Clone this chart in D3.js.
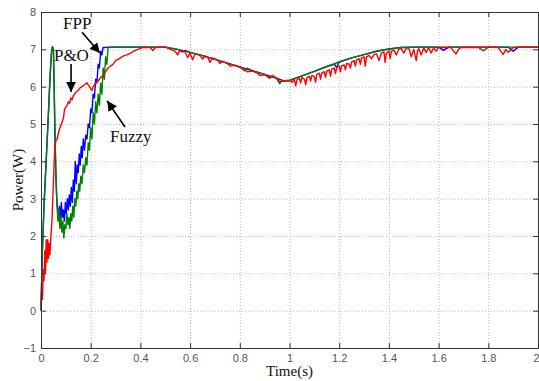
<!DOCTYPE html>
<html>
<head>
<meta charset="utf-8">
<script src="https://cdn.jsdelivr.net/npm/d3@7"></script>
<style>
  body { margin: 0; background: #fff; }
  .grid line { stroke: #b8b8b8; stroke-dasharray: 1,2; }
  .grid path { stroke: none; }
  .tick text { font-family: "Liberation Sans", Arial, sans-serif; font-size: 11px; fill: #555; }
</style>
</head>
<body>
<script>
// tick values
var xTicks = [0, 0.2, 0.4, 0.6, 0.8, 1, 1.2, 1.4, 1.6, 1.8, 2];
var yTicks = [-1, 0, 1, 2, 3, 4, 5, 6, 7, 8];

// FPP (blue) : [time, power]
var fpp = [
  [0,0],[0.005,1.5],[0.012,2.8],[0.02,3.9],[0.028,5.0],[0.036,6.2],[0.042,6.9],[0.046,7.06],
  [0.05,6.98],[0.053,6.0],[0.056,4.8],[0.06,3.6],[0.064,2.9],[0.068,2.6],[0.07,2.5],[0.074,2.8],
  [0.078,2.4],[0.082,2.9],[0.086,2.5],[0.09,2.7],[0.094,2.4],[0.098,2.9],[0.102,2.6],[0.106,3.0],
  [0.11,2.7],[0.114,3.1],[0.118,2.8],[0.122,3.3],[0.126,2.9],[0.13,3.5],[0.134,3.2],[0.138,4.0],
  [0.142,3.4],[0.146,3.9],[0.15,3.7],[0.154,4.2],[0.158,3.9],[0.162,4.4],[0.166,4.1],[0.17,4.6],
  [0.175,4.3],[0.18,4.7],[0.185,4.6],[0.19,5.0],[0.195,4.9],[0.2,5.4],[0.205,5.3],[0.21,5.8],
  [0.215,5.7],[0.22,6.2],[0.225,6.1],[0.23,6.6],[0.235,6.5],[0.24,6.95],[0.245,6.85],[0.25,7.05],
  [0.3,7.06],[0.4,7.06],[0.5,7.06],[0.55,7.0],[0.57,6.93],[0.58,6.97],[0.6,6.92],[0.65,6.83],
  [0.7,6.73],[0.75,6.63],[0.8,6.53],[0.85,6.43],[0.9,6.33],[0.95,6.22],[0.98,6.15],[1.0,6.17],
  [1.05,6.29],[1.1,6.41],[1.15,6.54],[1.18,6.6],[1.19,6.52],[1.2,6.66],[1.25,6.77],[1.3,6.86],
  [1.35,6.95],[1.4,7.01],[1.45,7.05],[1.5,7.06],[1.6,7.06],[1.62,6.97],[1.64,7.06],[1.88,7.06],
  [1.9,6.95],[1.92,7.06],[2.0,7.06]
];

// Fuzzy (green)
var fuzzy = [
  [0,0],[0.005,1.5],[0.012,2.8],[0.02,3.9],[0.028,5.0],[0.036,6.2],[0.042,6.9],[0.046,7.08],
  [0.05,7.0],[0.053,6.0],[0.056,4.8],[0.06,3.6],[0.064,2.9],[0.068,2.4],[0.072,2.7],[0.076,2.2],
  [0.08,2.5],[0.084,2.1],[0.088,2.4],[0.092,1.95],[0.096,2.3],[0.1,2.2],[0.104,2.6],[0.108,2.3],
  [0.112,2.5],[0.116,2.2],[0.12,2.6],[0.124,2.4],[0.128,2.8],[0.132,2.5],[0.136,3.0],[0.14,2.8],
  [0.144,3.2],[0.148,3.0],[0.152,3.4],[0.156,3.2],[0.16,3.6],[0.165,3.4],[0.17,3.9],[0.175,3.7],
  [0.18,4.1],[0.185,3.9],[0.19,4.5],[0.195,4.3],[0.2,4.9],[0.205,4.6],[0.21,5.3],[0.215,5.0],
  [0.22,5.6],[0.225,5.3],[0.23,5.8],[0.235,5.5],[0.24,6.1],[0.245,5.8],[0.25,6.5],[0.255,6.2],
  [0.26,6.8],[0.265,6.6],[0.27,7.06],[0.3,7.06],[0.4,7.06],[0.5,7.06],[0.55,7.0],[0.6,6.92],
  [0.65,6.83],[0.7,6.73],[0.75,6.63],[0.8,6.53],[0.82,6.42],[0.83,6.5],[0.85,6.43],[0.9,6.33],
  [0.92,6.22],[0.93,6.28],[0.95,6.2],[0.96,6.08],[0.97,6.16],[1.0,6.17],[1.05,6.29],[1.1,6.41],
  [1.15,6.54],[1.2,6.66],[1.25,6.77],[1.3,6.86],[1.35,6.95],[1.4,7.01],[1.45,7.05],[1.5,7.06],
  [1.76,7.06],[1.78,6.96],[1.8,7.06],[2.0,7.06]
];

// P&O (red)
var pando = [
  [0,0.1],[0.003,0.6],[0.006,0.3],[0.009,1.1],[0.012,0.8],[0.015,1.6],[0.018,1.0],[0.021,1.9],
  [0.024,1.3],[0.027,1.9],[0.03,1.4],[0.033,1.8],[0.036,1.5],[0.04,2.0],[0.044,2.4],[0.048,3.1],
  [0.052,3.8],[0.056,4.4],[0.06,4.55],[0.065,4.6],[0.07,4.75],[0.076,4.9],[0.082,5.0],[0.09,5.15],
  [0.095,5.4],[0.1,5.45],[0.105,5.5],[0.11,5.6],[0.115,5.55],[0.12,5.7],[0.125,5.65],[0.13,5.75],
  [0.14,5.85],[0.15,5.9],[0.157,5.97],[0.165,6.0],[0.175,6.05],[0.185,6.1],[0.19,6.05],[0.195,6.0],
  [0.2,5.95],[0.205,5.9],[0.21,6.0],[0.22,6.1],[0.23,6.15],[0.24,6.25],[0.25,6.3],[0.26,6.4],
  [0.27,6.5],[0.28,6.55],[0.29,6.6],[0.3,6.7],[0.315,6.75],[0.33,6.82],[0.345,6.85],[0.36,6.9],
  [0.375,6.96],[0.39,7.0],[0.41,7.05],[0.44,7.05],[0.45,6.97],[0.46,7.05],[0.5,7.06],[0.52,7.0],
  [0.54,6.95],[0.55,6.85],[0.56,6.98],[0.58,6.93],[0.59,6.78],[0.6,6.9],[0.61,6.72],[0.62,6.88],
  [0.64,6.84],[0.65,6.74],[0.66,6.82],[0.67,6.8],[0.68,6.65],[0.69,6.77],[0.71,6.72],[0.72,6.62],
  [0.73,6.68],[0.75,6.62],[0.76,6.55],[0.78,6.57],[0.8,6.52],[0.82,6.47],[0.83,6.4],[0.85,6.42],
  [0.87,6.37],[0.88,6.3],[0.9,6.32],[0.92,6.25],[0.93,6.3],[0.95,6.22],[0.96,6.14],[0.98,6.15],
  [1.0,6.16],[1.01,6.12],[1.02,6.2],[1.025,6.02],[1.03,6.18],[1.04,6.22],[1.045,6.1],[1.05,6.25],
  [1.06,6.2],[1.065,6.05],[1.07,6.24],[1.08,6.28],[1.085,6.15],[1.09,6.3],[1.1,6.27],[1.105,6.12],
  [1.11,6.33],[1.12,6.36],[1.125,6.2],[1.13,6.37],[1.14,6.4],[1.145,6.25],[1.15,6.42],[1.16,6.45],
  [1.165,6.28],[1.17,6.47],[1.18,6.5],[1.185,6.35],[1.19,6.52],[1.2,6.55],[1.205,6.4],[1.21,6.56],
  [1.22,6.58],[1.225,6.45],[1.23,6.62],[1.24,6.6],[1.245,6.5],[1.25,6.66],[1.26,6.7],[1.265,6.55],
  [1.27,6.72],[1.28,6.75],[1.285,6.6],[1.29,6.77],[1.3,6.8],[1.305,6.55],[1.31,6.8],[1.32,6.84],
  [1.33,6.75],[1.34,6.86],[1.35,6.88],[1.36,6.7],[1.37,6.9],[1.38,6.93],[1.385,6.65],[1.39,6.9],
  [1.4,6.96],[1.405,6.75],[1.41,6.95],[1.42,6.98],[1.43,6.85],[1.44,7.0],[1.45,7.02],[1.46,6.9],
  [1.47,7.03],[1.48,7.04],[1.49,6.8],[1.5,7.0],[1.51,6.7],[1.515,6.95],[1.52,7.02],[1.53,6.85],
  [1.54,7.04],[1.55,6.92],[1.56,7.05],[1.57,6.9],[1.58,7.04],[1.59,6.95],[1.6,7.05],[1.65,7.05],
  [1.66,6.95],[1.67,6.88],[1.68,7.0],[1.69,7.05],[1.75,7.05],[1.8,7.06],[1.84,7.05],[1.85,6.95],
  [1.86,6.86],[1.87,7.0],[1.88,6.92],[1.9,7.05],[1.95,7.06],[2.0,7.06]
];

// annotations: text position and arrow tail -> head (data units)
var notes = [
  { label: "FPP",   tx: 0.089, ty: 7.54, x1: 0.165, y1: 7.46, x2: 0.237, y2: 6.9 },
  { label: "P&O",   tx: 0.052, ty: 6.69, x1: 0.121, y1: 6.61, x2: 0.121, y2: 5.86 },
  { label: "Fuzzy", tx: 0.278, ty: 4.52, x1: 0.338, y1: 4.92, x2: 0.266, y2: 5.62 }
];

var width = 539, height = 381;
var margin = { top: 12, right: 1, bottom: 33, left: 41 };
var w = width - margin.left - margin.right;
var h = height - margin.top - margin.bottom;

var svg = d3.select('body').append('svg')
    .attr('width', width)
    .attr('height', height);

svg.append('defs').append('marker')
    .attr('id', 'head')
    .attr('viewBox', '0 0 10 10')
    .attr('refX', 10).attr('refY', 5)
    .attr('markerWidth', 10).attr('markerHeight', 10)
    .attr('markerUnits', 'userSpaceOnUse')
    .attr('orient', 'auto')
    .append('path')
    .attr('d', 'M0,0 L10,5 L0,10 Z')
    .attr('fill', '#000');

var g = svg.append('g').attr('transform', 'translate(' + margin.left + ',' + margin.top + ')');

var x = d3.scaleLinear().domain([0, 2]).range([0, w]);
var y = d3.scaleLinear().domain([-1, 8]).range([h, 0]);

// grid
g.append('g').attr('class', 'grid')
    .attr('transform', 'translate(0,' + h + ')')
    .call(d3.axisBottom(x).tickValues(xTicks.slice(1, -1)).tickSize(-h).tickFormat(''));
g.append('g').attr('class', 'grid')
    .call(d3.axisLeft(y).tickValues(yTicks.slice(1, -1)).tickSize(-w).tickFormat(''));

// series
var line = d3.line().x(function(d) { return x(d[0]); }).y(function(d) { return y(d[1]); });
var series = [
  { data: fpp, color: '#0000ff' },
  { data: fuzzy, color: '#008000' },
  { data: pando, color: '#ff0000' }
];
g.selectAll('.series')
    .data(series)
    .enter()
    .append('path')
    .attr('class', 'series')
    .attr('d', function(d) { return line(d.data); })
    .attr('fill', 'none')
    .attr('stroke', function(d) { return d.color; })
    .attr('stroke-width', 1.4)
    .attr('stroke-linejoin', 'round');

// axes + box
function styleAxis(sel) {
  sel.select('.domain').attr('stroke', '#333');
  sel.selectAll('.tick line').attr('stroke', '#333');
}
var xAxisG = g.append('g').attr('transform', 'translate(0,' + h + ')')
    .call(d3.axisBottom(x).tickValues(xTicks).tickSize(-5).tickSizeOuter(0).tickPadding(6).tickFormat(function(d) { return d; }))
    .call(styleAxis);
// keep the last label inside the frame
xAxisG.selectAll('.tick text').filter(function(d) { return d === 2; }).attr('text-anchor', 'end').attr('dx', '1');
g.append('g')
    .call(d3.axisLeft(y).tickValues(yTicks).tickSize(-5).tickSizeOuter(0).tickPadding(5))
    .call(styleAxis);
g.append('g')
    .call(d3.axisTop(x).tickValues(xTicks).tickSize(-5).tickSizeOuter(0).tickFormat(''))
    .call(styleAxis);
g.append('g').attr('transform', 'translate(' + w + ',0)')
    .call(d3.axisRight(y).tickValues(yTicks).tickSize(-5).tickSizeOuter(0).tickFormat(''))
    .call(styleAxis);

// annotations
var serif = '"Liberation Serif", "Times New Roman", serif';
var ann = g.selectAll('.note').data(notes).enter().append('g').attr('class', 'note');
ann.append('line')
    .attr('x1', function(d) { return x(d.x1); })
    .attr('y1', function(d) { return y(d.y1); })
    .attr('x2', function(d) { return x(d.x2); })
    .attr('y2', function(d) { return y(d.y2); })
    .attr('stroke', '#000')
    .attr('stroke-width', 1.6)
    .attr('marker-end', 'url(#head)');
ann.append('text')
    .attr('x', function(d) { return x(d.tx); })
    .attr('y', function(d) { return y(d.ty); })
    .attr('font-family', serif)
    .attr('font-size', 17)
    .attr('fill', '#111')
    .text(function(d) { return d.label; });

// axis labels
svg.append('text')
    .attr('x', margin.left + w / 2)
    .attr('y', 376)
    .attr('text-anchor', 'middle')
    .attr('font-family', serif)
    .attr('font-size', 15)
    .attr('fill', '#111')
    .text('Time(s)');
svg.append('text')
    .attr('transform', 'translate(23,' + (margin.top + h / 2) + ') rotate(-90)')
    .attr('text-anchor', 'middle')
    .attr('font-family', serif)
    .attr('font-size', 15)
    .attr('fill', '#111')
    .text('Power(W)');
</script>
</body>
</html>
